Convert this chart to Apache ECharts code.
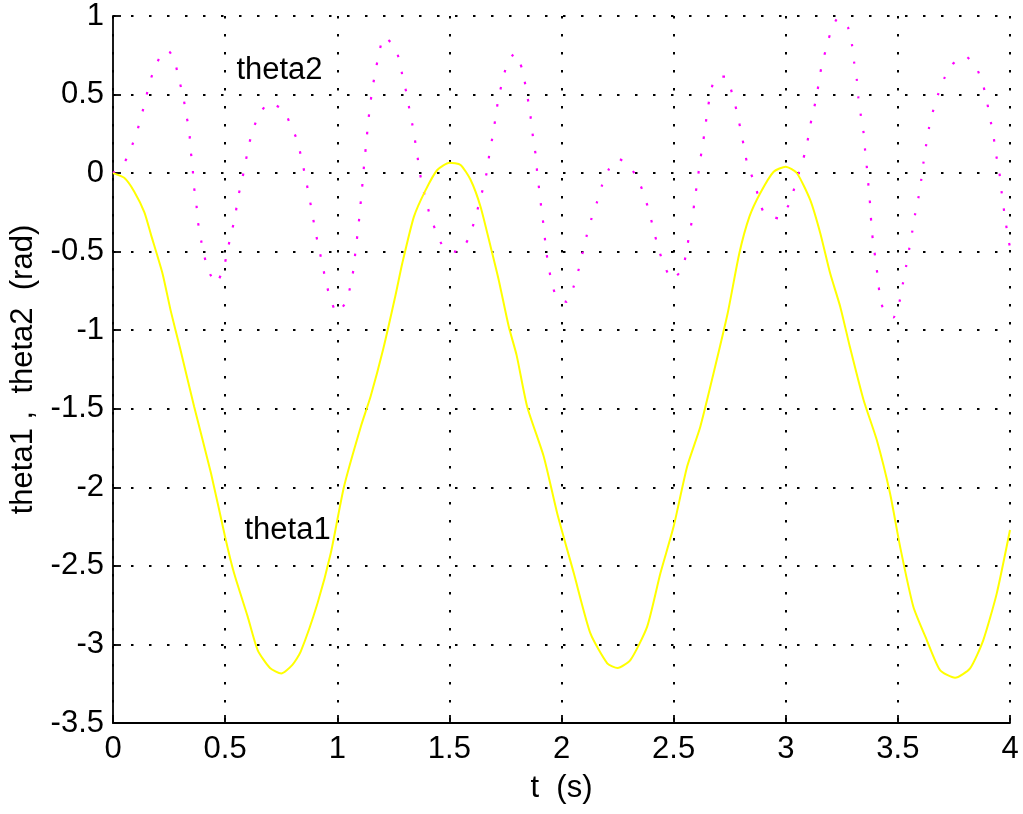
<!DOCTYPE html>
<html>
<head>
<meta charset="utf-8">
<script src="https://cdn.jsdelivr.net/npm/echarts@6/dist/echarts.min.js"></script>
<style>html,body{margin:0;padding:0;background:#fff}#c{width:1023px;height:814px}</style>
</head>
<body>
<div id="c"></div>
<script>
// theta1 (yellow solid) samples
const t1 = [0,0.05,0.095,0.14,0.169,0.221,0.258,0.3,0.362,0.437,0.503,0.54,0.6,0.645,0.7,0.75,0.8,0.837,0.912,0.971,1.03,1.105,1.149,1.205,1.26,1.29,1.342,1.394,1.446,1.5,1.55,1.595,1.639,1.684,1.72,1.765,1.8,1.847,1.921,1.981,2.055,2.129,2.204,2.25,2.307,2.382,2.441,2.5,2.56,2.619,2.678,2.741,2.793,2.838,2.886,2.946,3.0,3.05,3.109,3.154,3.198,3.243,3.285,3.347,3.406,3.465,3.51,3.569,3.629,3.688,3.755,3.822,3.881,3.941,4.0];
const theta1 = [0,-0.03,-0.118,-0.25,-0.39,-0.64,-0.88,-1.12,-1.487,-1.91,-2.335,-2.547,-2.82,-3.036,-3.15,-3.185,-3.13,-3.046,-2.738,-2.42,-1.996,-1.614,-1.42,-1.12,-0.776,-0.574,-0.277,-0.108,0.02,0.066,0.052,-0.044,-0.214,-0.469,-0.68,-0.978,-1.16,-1.487,-1.805,-2.166,-2.547,-2.93,-3.12,-3.15,-3.1,-2.887,-2.547,-2.25,-1.869,-1.614,-1.274,-0.892,-0.51,-0.277,-0.128,0.009,0.041,-0.001,-0.171,-0.383,-0.638,-0.85,-1.1,-1.444,-1.699,-2.038,-2.378,-2.76,-2.972,-3.163,-3.212,-3.152,-2.972,-2.675,-2.272];

// theta2 (magenta dotted) samples
const t2 = [0,0.05,0.08,0.107,0.128,0.147,0.166,0.192,0.229,0.25,0.276,0.293,0.313,0.325,0.34,0.345,0.355,0.359,0.371,0.377,0.39,0.405,0.426,0.459,0.493,0.511,0.526,0.545,0.555,0.573,0.589,0.604,0.624,0.652,0.698,0.763,0.793,0.823,0.84,0.857,0.872,0.886,0.9,0.915,0.932,0.947,0.967,0.998,1.042,1.06,1.075,1.082,1.093,1.1,1.108,1.115,1.122,1.13,1.137,1.146,1.157,1.171,1.186,1.209,1.253,1.278,1.292,1.31,1.324,1.339,1.351,1.363,1.376,1.394,1.413,1.442,1.476,1.543,1.587,1.612,1.632,1.651,1.669,1.679,1.694,1.706,1.718,1.736,1.755,1.791,1.825,1.84,1.854,1.865,1.874,1.886,1.892,1.902,1.911,1.921,1.929,1.939,1.955,1.978,2.022,2.055,2.077,2.095,2.113,2.134,2.159,2.181,2.211,2.255,2.307,2.344,2.37,2.392,2.411,2.431,2.456,2.493,2.539,2.557,2.57,2.585,2.594,2.606,2.616,2.628,2.64,2.65,2.664,2.686,2.732,2.76,2.78,2.797,2.812,2.827,2.854,2.876,2.901,2.968,3.013,3.038,3.06,3.084,3.1,3.114,3.131,3.145,3.158,3.177,3.198,3.232,3.277,3.295,3.305,3.317,3.324,3.335,3.347,3.354,3.362,3.369,3.376,3.381,3.388,3.399,3.409,3.418,3.436,3.48,3.507,3.522,3.537,3.551,3.564,3.577,3.592,3.604,3.614,3.626,3.639,3.658,3.681,3.707,3.742,3.8,3.849,3.878,3.896,3.911,3.926,3.936,3.951,3.96,3.97,3.981,3.993,4.0];
const theta2 = [0,0.066,0.158,0.264,0.37,0.48,0.588,0.688,0.777,0.775,0.709,0.601,0.493,0.38,0.274,0.158,0.047,-0.065,-0.182,-0.292,-0.405,-0.515,-0.621,-0.702,-0.606,-0.49,-0.39,-0.277,-0.171,-0.059,0.052,0.168,0.274,0.374,0.448,0.397,0.3,0.204,0.094,-0.017,-0.129,-0.235,-0.351,-0.458,-0.566,-0.676,-0.787,-0.889,-0.814,-0.706,-0.591,-0.479,-0.362,-0.252,-0.139,-0.023,0.088,0.2,0.313,0.423,0.54,0.65,0.763,0.868,0.809,0.716,0.607,0.502,0.387,0.279,0.168,0.056,-0.059,-0.165,-0.267,-0.377,-0.475,-0.504,-0.411,-0.303,-0.197,-0.09,0.02,0.13,0.243,0.355,0.47,0.582,0.682,0.763,0.661,0.55,0.438,0.327,0.215,0.104,-0.006,-0.122,-0.235,-0.345,-0.458,-0.568,-0.685,-0.791,-0.819,-0.719,-0.61,-0.5,-0.394,-0.288,-0.182,-0.076,0.024,0.09,0.037,-0.05,-0.146,-0.252,-0.362,-0.473,-0.579,-0.676,-0.61,-0.5,-0.388,-0.277,-0.165,-0.055,0.058,0.168,0.279,0.391,0.502,0.61,0.614,0.512,0.402,0.289,0.179,0.069,-0.038,-0.139,-0.246,-0.288,-0.203,-0.097,0.009,0.12,0.225,0.338,0.444,0.554,0.667,0.777,0.885,0.985,0.928,0.82,0.705,0.593,0.48,0.365,0.257,0.143,0.031,-0.082,-0.197,-0.309,-0.421,-0.536,-0.649,-0.761,-0.871,-0.918,-0.819,-0.706,-0.591,-0.479,-0.373,-0.26,-0.154,-0.044,0.066,0.179,0.289,0.402,0.508,0.603,0.692,0.745,0.673,0.571,0.465,0.349,0.243,0.13,0.024,-0.09,-0.203,-0.313,-0.426,-0.47];

// axis settings
const xMin = 0, xMax = 4, xStep = 0.5;
const yMin = -3.5, yMax = 1, yStep = 0.5;
const xTitle = 't  (s)';
const yTitle = 'theta1 ,  theta2  (rad)';

// in-plot annotation texts (anchored in data units)
const labelNames = ['theta2', 'theta1'];
const labelT = [0.548, 0.584];
const labelY = [0.656, -2.272];

const FONT = '"Liberation Sans", Arial, Helvetica, sans-serif';
const FS = 31;
const zip = (a, b) => a.map((v, i) => [v, b[i]]);

const chart = echarts.init(document.getElementById('c'), null, {renderer: 'canvas'});
const gridLine = {show: true, lineStyle: {color: '#000', width: 2, type: [2.5, 15.5]}};
chart.setOption({
  animation: false,
  backgroundColor: '#fff',
  grid: {left: 112, right: 13, top: 16, bottom: 91, containLabel: false},
  xAxis: {
    type: 'value', min: xMin, max: xMax, interval: xStep,
    name: xTitle, nameLocation: 'middle', nameGap: 50,
    nameTextStyle: {fontFamily: FONT, fontSize: FS, color: '#000'},
    axisLine: {show: true, onZero: false, lineStyle: {color: '#000', width: 1.8}},
    axisTick: {show: true, inside: true, length: 8, lineStyle: {color: '#000', width: 1.8}},
    axisLabel: {fontFamily: FONT, fontSize: FS, color: '#000', margin: 11},
    splitLine: gridLine
  },
  yAxis: {
    type: 'value', min: yMin, max: yMax, interval: yStep,
    name: yTitle, nameLocation: 'middle', nameGap: 74, nameRotate: 90,
    nameTextStyle: {fontFamily: FONT, fontSize: FS, color: '#000'},
    axisLine: {show: true, onZero: false, lineStyle: {color: '#000', width: 1.8}},
    axisTick: {show: true, inside: true, length: 8, lineStyle: {color: '#000', width: 1.8}},
    axisLabel: {fontFamily: FONT, fontSize: FS, color: '#000', margin: 9},
    splitLine: gridLine
  },
  series: [
    {
      name: 'theta1', type: 'line', data: zip(t1, theta1), showSymbol: false, smooth: 0.2,
      lineStyle: {color: '#ffff00', width: 2}, z: 3,
      markPoint: {
        symbol: 'rect', symbolSize: 1, itemStyle: {color: 'rgba(0,0,0,0)'},
        label: {show: true, position: 'right', distance: 0, formatter: '{b}',
                fontFamily: FONT, fontSize: FS, color: '#000'},
        data: labelNames.map((n, i) => ({name: n, coord: [labelT[i], labelY[i]]}))
      }
    },
    {
      name: 'theta2', type: 'line', data: zip(t2, theta2), showSymbol: false, smooth: 0.2,
      lineStyle: {color: '#ff00ff', width: 2.2, type: [2.5, 15]}, z: 2
    }
  ]
});
</script>
</body>
</html>
